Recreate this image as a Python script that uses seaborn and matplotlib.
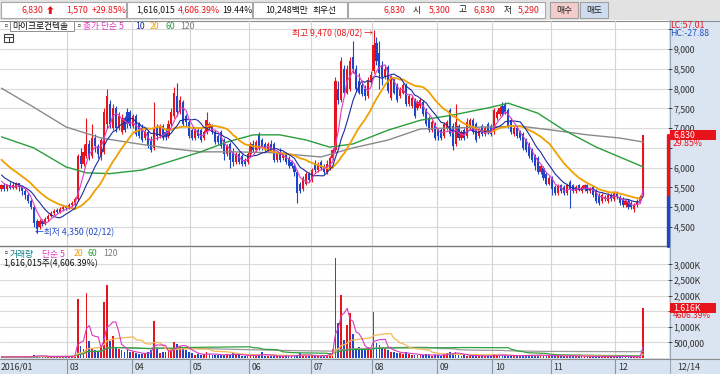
import numpy as np
import pandas as pd
import matplotlib
matplotlib.use("Agg")
import matplotlib.pyplot as plt
from matplotlib.patches import Rectangle
from matplotlib.transforms import blended_transform_factory
import seaborn as sns

# daily candles, 2016 (won)
opens = [5450, 5550, 5450, 5560, 5480, 5480, 5600, 5520, 5400, 5300,
         5150, 5000, 4650, 4500, 4650, 4580, 4700, 4780, 4850, 4920,
         4880, 4950, 5020, 4980, 5050, 5100, 5200, 6300, 6100, 6300,
         6600, 6300, 6750, 6550, 6300, 6400, 7100, 7600, 7000, 7500,
         7000, 6900, 7250, 7400, 7400, 7050, 7300, 7100, 7000, 6750,
         6900, 6700, 6500, 7000, 6800, 7050, 6900, 6800, 7100, 7300,
         7800, 7400, 7650, 7300, 7150, 6950, 6750, 6950, 6950, 6750,
         6900, 7000, 7050, 6900, 6800, 6900, 6700, 6350, 6600, 6400,
         6150, 6350, 6300, 6200, 6150, 6350, 6600, 6450, 6850, 6700,
         6600, 6450, 6600, 6600, 6200, 6400, 6250, 6350, 6250, 6150,
         6050, 5900, 5600, 5450, 5600, 5850, 5700, 6100, 5950, 6150,
         6050, 5900, 6000, 6250, 6450, 8000, 7700, 8500, 7900, 8000,
         8800, 8500, 8200, 8100, 8000, 7800, 8200, 8450, 9150, 8900,
         8600, 8300, 8550, 7750, 8250, 8100, 7800, 7900, 8100, 7600,
         7550, 7700, 7500, 7550, 7650, 7450, 7250, 6950, 7100, 6950,
         6950, 6800, 7000, 7450, 7050, 6600, 7050, 6750, 6950, 6800,
         7000, 7200, 7100, 6800, 7050, 6850, 7100, 7050, 6900, 7250,
         7350, 7550, 7600, 7450, 7200, 6850, 7000, 6900, 6850, 6700,
         6600, 6450, 6300, 6250, 5900, 6000, 5850, 5600, 5750, 5500,
         5350, 5550, 5500, 5350, 5650, 5550, 5400, 5550, 5400, 5450,
         5550, 5400, 5500, 5400, 5300, 5150, 5200, 5150, 5300, 5200,
         5350, 5250, 5200, 5050, 5150, 5100, 4950, 5050, 5150, 5300]
closes = [5550, 5450, 5560, 5480, 5560, 5600, 5500, 5400, 5300, 5150,
          5000, 4600, 4450, 4650, 4580, 4700, 4780, 4850, 4900, 4880,
          4950, 5000, 4980, 5050, 5100, 5200, 6300, 6100, 6400, 6600,
          6300, 6750, 6550, 6350, 6700, 7400, 7800, 7100, 7500, 7000,
          7300, 7250, 6950, 7100, 7050, 7300, 6850, 6800, 6700, 6900,
          6550, 6450, 7000, 6800, 7050, 6750, 6800, 7100, 7400, 7900,
          7400, 7700, 7100, 7150, 6800, 6750, 6950, 6800, 6700, 6900,
          7200, 7100, 6900, 6650, 6650, 6550, 6350, 6550, 6200, 6150,
          6350, 6150, 6100, 6100, 6350, 6600, 6450, 6650, 6500, 6500,
          6450, 6600, 6450, 6200, 6400, 6200, 6350, 6150, 6050, 6050,
          5900, 5350, 5400, 5750, 5850, 5700, 5950, 5950, 6100, 6000,
          5900, 6100, 6250, 6450, 8200, 7700, 8700, 7900, 8500, 8700,
          8500, 8000, 7900, 7850, 7800, 8200, 8350, 9100, 8700, 8400,
          8300, 8500, 7950, 8250, 7900, 7700, 8000, 8100, 7600, 7800,
          7750, 7300, 7650, 7700, 7350, 7100, 6950, 7150, 6750, 6800,
          6750, 7100, 7150, 6850, 6550, 7150, 6750, 6900, 6750, 7150,
          7200, 6900, 6700, 6950, 6850, 7000, 6900, 6850, 7450, 7400,
          7500, 7350, 7400, 7050, 6900, 7000, 6800, 6750, 6500, 6450,
          6300, 6200, 6050, 5900, 6050, 5750, 5600, 5750, 5450, 5350,
          5550, 5400, 5350, 5550, 5450, 5400, 5500, 5450, 5500, 5550,
          5400, 5450, 5300, 5150, 5100, 5300, 5250, 5300, 5200, 5350,
          5250, 5100, 5050, 5150, 5000, 5000, 5050, 5150, 5260, 6830]
highs = [5600, 5620, 5600, 5640, 5650, 5650, 5620, 5560, 5450, 5350,
         5200, 5050, 4700, 4700, 4700, 4750, 4820, 4900, 4950, 4980,
         5000, 5050, 5050, 5100, 5150, 5250, 6350, 6500, 6600, 7250,
         6700, 7100, 6850, 6600, 6750, 7500, 8000, 7700, 7600, 7550,
         7400, 7350, 7300, 7500, 7450, 7350, 7350, 7150, 7100, 7000,
         6950, 6800, 7650, 7100, 7100, 7100, 7000, 7200, 7500, 8050,
         8150, 7800, 7700, 7350, 7200, 7000, 7000, 7000, 7000, 6950,
         7400, 7150, 7100, 6950, 6850, 6950, 6750, 6600, 6650, 6500,
         6400, 6400, 6350, 6250, 6400, 6650, 6700, 6700, 6900, 6750,
         6650, 6650, 6700, 6650, 6450, 6500, 6400, 6400, 6300, 6200,
         6100, 5950, 5650, 5800, 5900, 5900, 6000, 6200, 6150, 6200,
         6100, 6200, 6300, 6500, 8300, 8200, 8800, 8600, 8600, 8800,
         9200, 8600, 8400, 8200, 8100, 8300, 8450, 9470, 9300, 9200,
         8700, 8600, 8600, 8350, 8300, 8150, 8050, 8150, 8150, 7850,
         7800, 7750, 7700, 7750, 7700, 7500, 7300, 7200, 7150, 7000,
         7000, 7150, 7200, 7500, 7130, 7600, 7100, 6950, 7000, 7250,
         7250, 7250, 7150, 7000, 7100, 7050, 7150, 7100, 7500, 7450,
         7550, 7650, 7650, 7500, 7250, 7050, 7050, 6950, 6900, 6750,
         6650, 6500, 6350, 6300, 6100, 6050, 5900, 5800, 5800, 5550,
         5600, 5600, 5550, 5600, 5700, 5600, 5550, 5600, 5550, 5600,
         5600, 5500, 5550, 5450, 5350, 5350, 5300, 5350, 5350, 5400,
         5400, 5300, 5250, 5200, 5200, 5150, 5100, 5200, 5300, 6830]
lows = [5400, 5400, 5420, 5450, 5450, 5450, 5420, 5300, 5200, 5100,
        4950, 4500, 4350, 4450, 4520, 4550, 4650, 4750, 4800, 4850,
        4850, 4900, 4920, 4950, 5000, 5050, 5150, 6000, 6050, 6250,
        6200, 6250, 6400, 6250, 6200, 6350, 7000, 7000, 6950, 6900,
        6950, 6850, 6900, 7000, 7000, 7000, 6800, 6750, 6650, 6700,
        6500, 6400, 6450, 6700, 6750, 6700, 6700, 6750, 7050, 7250,
        7300, 7350, 7050, 7050, 6750, 6700, 6700, 6750, 6650, 6700,
        6850, 6950, 6850, 6600, 6600, 6500, 6200, 6300, 6000, 6050,
        6100, 6100, 6050, 6050, 6100, 6300, 6400, 6400, 6450, 6450,
        6400, 6400, 6400, 6150, 6150, 6150, 6200, 6100, 6000, 6000,
        5800, 5100, 5350, 5400, 5550, 5650, 5650, 5900, 5900, 5950,
        5850, 5850, 5950, 6200, 6400, 7600, 7650, 7800, 7850, 7950,
        8400, 7950, 7850, 7800, 7700, 7750, 8100, 8400, 8600, 8000,
        8100, 8250, 7900, 7700, 7850, 7650, 7750, 7850, 7550, 7550,
        7500, 7250, 7450, 7500, 7300, 7050, 6900, 6900, 6700, 6700,
        6700, 6750, 6950, 6800, 6450, 6550, 6700, 6700, 6700, 6750,
        6950, 6850, 6650, 6750, 6800, 6800, 6850, 6800, 6850, 7200,
        7300, 7300, 7350, 7000, 6850, 6800, 6750, 6700, 6450, 6400,
        6250, 6150, 5950, 5850, 5850, 5700, 5550, 5550, 5300, 5300,
        5300, 5350, 5300, 5300, 4980, 5350, 5350, 5400, 5350, 5400,
        5350, 5350, 5250, 5100, 5050, 5100, 5150, 5100, 5150, 5150,
        5200, 5050, 5000, 5000, 4950, 4950, 4880, 5000, 5100, 5290]
# volume in thousand shares
volumes = [40, 30, 35, 30, 45, 40, 30, 35, 40, 50,
           45, 100, 80, 60, 40, 50, 45, 40, 60, 50,
           45, 40, 50, 60, 70, 80, 1880, 400, 300, 2070,
           560, 300, 250, 200, 350, 1790, 2350, 560, 720, 350,
           300, 250, 200, 250, 200, 180, 150, 120, 130, 150,
           200, 250, 1180, 300, 150, 200, 180, 250, 300, 500,
           450, 400, 350, 250, 200, 150, 100, 120, 100, 130,
           180, 120, 100, 90, 110, 100, 90, 120, 100, 160,
           100, 90, 80, 70, 80, 90, 100, 80, 90, 190,
           80, 70, 60, 70, 60, 50, 60, 70, 60, 80,
           70, 90, 150, 100, 80, 70, 60, 60, 70, 80,
           90, 100, 150, 300, 3190, 1110, 2030, 590, 1050, 1430,
           780, 320, 350, 300, 280, 340, 250, 1460, 470, 420,
           350, 300, 250, 200, 180, 170, 150, 140, 200, 120,
           110, 100, 110, 90, 100, 120, 90, 80, 100, 90,
           80, 120, 150, 180, 160, 190, 100, 80, 90, 70,
           80, 70, 80, 60, 70, 60, 80, 70, 120, 90,
           80, 100, 90, 80, 70, 60, 70, 80, 90, 80,
           100, 90, 80, 110, 90, 70, 80, 90, 70, 60,
           70, 60, 70, 80, 90, 60, 50, 60, 70, 60,
           50, 60, 50, 40, 50, 60, 50, 40, 50, 40,
           50, 60, 50, 40, 40, 50, 40, 50, 35.082, 1616.015]
# closes of the trading days just before the visible window (for the short averages)
pre_closes = [6900, 6850, 6800, 6700, 6600, 6600, 6500, 6400, 6300, 6250,
              6150, 6000, 5950, 5900, 5850, 5800, 5700, 5650, 5600]

# long averages (day index, value)
ma60_at = [0, 11, 22, 29, 37, 48, 59, 68, 77, 86, 95, 104, 112, 120, 132,
           143, 154, 166, 173, 183, 192, 203, 211, 219]
ma60_vals = [6780, 6500, 6020, 5870, 5850, 5940, 6190, 6400, 6650, 6830, 6830,
             6700, 6520, 6600, 6950, 7200, 7330, 7510, 7630, 7380, 6950, 6520,
             6270, 6020]
ma120_at = [0, 11, 22, 34, 45, 56, 68, 79, 92, 109, 120, 132, 143, 166, 177,
            188, 200, 211, 219]
ma120_vals = [8010, 7530, 7030, 6750, 6620, 6500, 6400, 6400, 6380, 6270, 6500,
              6700, 6980, 7030, 7050, 6950, 6830, 6750, 6650]

month_pos = [22.5, 44.5, 64.5, 84.5, 105.5, 126.5, 148.5, 167.5, 187.5, 209.5]
month_names = ['03', '04', '05', '06', '07', '08', '09', '10', '11', '12']

RED = '#e8141c'
BLUE = '#1f45c8'
C5, C10, C20, C60, C120 = '#e03cc0', '#1c2c9c', '#f0a000', '#2a9e3c', '#8a8a8a'
TXT = '#303030'

sns.set_theme(style='white')
plt.rcParams['font.family'] = ['Noto Sans CJK KR', 'DejaVu Sans']
plt.rcParams['axes.unicode_minus'] = False
FS = 6.3

df = pd.DataFrame({'open': opens, 'high': highs, 'low': lows,
                   'close': closes, 'volume': volumes})
df['i'] = np.arange(len(df))
up = df['close'] >= df['open']
cols = np.where(up, RED, BLUE)

allc = pd.Series(pre_closes + closes)
n_pre = len(pre_closes)
for w in (5, 10, 20):
    df[f'ma{w}'] = allc.rolling(w, min_periods=1).mean().iloc[n_pre:].values
for w in (5, 20, 60, 120):
    df[f'vma{w}'] = df['volume'].rolling(w, min_periods=1).mean()

W, H = 720, 374
fig = plt.figure(figsize=(7.2, 3.74), dpi=100)

# backgrounds in pixel coordinates
bg = fig.add_axes([0, 0, 1, 1], zorder=0)
bg.set_xlim(0, W)
bg.set_ylim(H, 0)
bg.axis('off')


def box(a, x, y, w, h, fc, ec='none', lw=0.8):
    a.add_patch(Rectangle((x, y), w, h, facecolor=fc, edgecolor=ec, lw=lw))


box(bg, 0, 0, W, 20, '#e2e2e2')
for x0, w in [(1, 125), (127, 125), (253, 94), (348, 197)]:
    box(bg, x0, 2, w, 16, 'white', '#a8a8a8')
box(bg, 550, 2, 28, 16, '#f4cccc', '#a0a0a0')
box(bg, 580, 2, 28, 16, '#cfdcf0', '#a0a0a0')
box(bg, 0, 20, 669, 338, 'white')
box(bg, 669, 20, 51, 338, '#dbe5f1')
box(bg, 0, 358, W, 16, '#d7e3f0')
bg.plot([0, W], [20.5, 20.5], color='#8c8c8c', lw=0.8)
bg.plot([669.5, 669.5], [20, 374], color='#9aa8b8', lw=0.8)
bg.plot([0, W], [358.5, 358.5], color='#8c8c8c', lw=0.8)

# price panel
ax = fig.add_axes([0, 128 / H, 668 / W, 225 / H], zorder=2)
ax.patch.set_alpha(0)
ax.set_xlim(-0.5, 227.5)
ax.set_ylim(4020, 9708)
for y in range(4500, 10000, 500):
    ax.axhline(y, color='#dadada', lw=0.8, zorder=0)
for x in month_pos:
    ax.axvline(x, color='#d4d4d4', lw=0.8, zorder=0)

ax.vlines(df['i'], df['low'], df['high'], colors=cols, lw=0.8, zorder=2)
body = (df['close'] - df['open']).abs().clip(lower=25)
ax.bar(df['i'], body, bottom=df[['open', 'close']].min(axis=1), width=0.72,
       color=cols, lw=0, zorder=2)

sns.lineplot(x=ma120_at, y=ma120_vals, ax=ax, color=C120, lw=1.0, zorder=3)
sns.lineplot(x=ma60_at, y=ma60_vals, ax=ax, color=C60, lw=1.0, zorder=3)
sns.lineplot(x=df['i'], y=df['ma20'], ax=ax, color=C20, lw=1.3, zorder=3)
sns.lineplot(x=df['i'], y=df['ma10'], ax=ax, color=C10, lw=0.8, zorder=3)
sns.lineplot(x=df['i'], y=df['ma5'], ax=ax, color=C5, lw=0.8, zorder=3)

ax.set_xlabel('')
ax.set_ylabel('')
ax.set_xticks([])
ax.yaxis.tick_right()
price_ticks = list(range(4500, 10000, 500))
ax.set_yticks(price_ticks)
# 9,500 sits under the LC/HC readout, 6,500 under the change tag
ax.set_yticklabels(['' if v in (6500, 9500) else f'{v:,}' for v in price_ticks])
ax.tick_params(axis='y', direction='out', length=3, width=0.7, pad=1,
               labelsize=FS, colors='#404040', labelcolor=TXT)
for s in ('top', 'left', 'right'):
    ax.spines[s].set_visible(False)
ax.spines['bottom'].set_color('#7a7a7a')
ax.spines['bottom'].set_linewidth(1.0)

last, prev = closes[-1], closes[-2]
xr = ax.get_xlim()[1]
ax.plot([xr, xr], [prev, last], color=RED, lw=2.4, clip_on=False, zorder=4)
ax.plot([xr, xr], [ax.get_ylim()[0], prev], color=BLUE, lw=2.4, clip_on=False, zorder=4)

hi = int(np.argmax(highs))
lo = int(np.argmin(lows))
ax.annotate(f'최고 {highs[hi]:,} (08/02) →', xy=(hi, highs[hi]), xytext=(-1, -3),
            textcoords='offset pixels', ha='right', va='center', fontsize=FS,
            color=RED, zorder=5)
ax.annotate(f'←최저 {lows[lo]:,} (02/12)', xy=(lo, lows[lo]), xytext=(-2, 0),
            textcoords='offset pixels', ha='left', va='center', fontsize=FS,
            color=BLUE, zorder=5)

tr = blended_transform_factory(ax.transAxes, ax.transData)
ax.add_patch(Rectangle((670 / 668, last - 125), 0.069, 250, transform=tr,
                       facecolor=RED, edgecolor='none', clip_on=False, zorder=6))
ax.text(673 / 668, last, f'{last:,}', transform=tr, ha='left', va='center',
        fontsize=FS, color='white', zorder=7)
ax.annotate(f'{(last - prev) / prev * 100:.2f}%', xy=(673 / 668, last), xycoords=tr,
            xytext=(0, -9), textcoords='offset pixels', ha='left', va='center',
            fontsize=FS, color=RED, zorder=7, annotation_clip=False)

# volume panel
axv = fig.add_axes([0, 16 / H, 668 / W, 111 / H], zorder=2)
axv.patch.set_alpha(0)
axv.set_xlim(-0.5, 227.5)
axv.set_ylim(0, 3558)
for y in range(500, 3500, 500):
    axv.axhline(y, color='#dadada', lw=0.8, zorder=0)
for x in month_pos:
    axv.axvline(x, color='#d4d4d4', lw=0.8, zorder=0)
axv.bar(df['i'], df['volume'], width=0.62, color=cols, lw=0, zorder=2)
sns.lineplot(x=df['i'], y=df['vma120'], ax=axv, color='#9a9a9a', lw=0.9, zorder=3)
sns.lineplot(x=df['i'], y=df['vma60'], ax=axv, color='#30a040', lw=0.9, zorder=3)
sns.lineplot(x=df['i'], y=df['vma20'], ax=axv, color='#f6b850', lw=0.9, zorder=3)
sns.lineplot(x=df['i'], y=df['vma5'], ax=axv, color='#d838c0', lw=0.8, zorder=3)
axv.set_xlabel('')
axv.set_ylabel('')
axv.set_xticks([])
axv.yaxis.tick_right()
vt = [500, 1000, 1500, 2000, 2500, 3000]
axv.set_yticks(vt)
# 1,500K is hidden behind the volume tag
axv.set_yticklabels(['500,000', '1,000K', '', '2,000K', '2,500K', '3,000K'])
axv.tick_params(axis='y', direction='out', length=3, width=0.7, pad=1,
                labelsize=FS, colors='#404040', labelcolor=TXT)
for s in axv.spines.values():
    s.set_visible(False)

trv = blended_transform_factory(axv.transAxes, axv.transData)
vlast = volumes[-1]
axv.add_patch(Rectangle((670 / 668, vlast - 160), 0.069, 320, transform=trv,
                        facecolor=RED, edgecolor='none', clip_on=False, zorder=6))
axv.text(673 / 668, vlast, f'{vlast:,.0f}K', transform=trv, ha='left', va='center',
         fontsize=FS, color='white', zorder=7)
axv.annotate(f'{vlast / volumes[-2] * 100:.2f}%', xy=(673 / 668, vlast), xycoords=trv,
             xytext=(0, -8), textcoords='offset pixels', ha='left', va='center',
             fontsize=FS - 0.3, color=RED, zorder=7, annotation_clip=False)

# date row
trx = blended_transform_factory(axv.transData, axv.transAxes)
axv.text(-0.2, -0.085, '2016/01', transform=trx, ha='left', va='center',
         fontsize=FS, color=TXT)
for x, m in zip(month_pos, month_names):
    axv.plot([x, x], [-0.01, -0.15], transform=trx, color='#8a96a6', lw=0.8,
             clip_on=False)
    axv.text(x + 0.9, -0.085, m, transform=trx, ha='left', va='center',
             fontsize=FS, color=TXT)

# texts on top
fg = fig.add_axes([0, 0, 1, 1], zorder=10)
fg.set_xlim(0, W)
fg.set_ylim(H, 0)
fg.axis('off')


def t(x, y, s, c=TXT, ha='left', **kw):
    fg.text(x, y, s, color=c, ha=ha, va='center', fontsize=FS, **kw)


t(21, 10, f'{last:,}', RED)
t(46, 10, '⬆', RED, fontweight='bold')
t(66, 10, f'{last - prev:,}', RED)
t(92, 10, f'+{(last - prev) / prev * 100:.2f}%', RED)
t(136, 10, f'{vlast * 1000:,.0f}', '#101010')
t(178, 10, f'{vlast / volumes[-2] * 100:,.2f}%', RED)
t(222, 10, '19.44%', '#101010')
t(265, 10, '10,248백만', '#101010')
t(313, 10, '최우선', '#101010')
t(384, 10, f'{last:,}', RED)
t(413, 10, '시', '#101010')
t(429, 10, f'{opens[-1]:,}', RED)
t(459, 10, '고', '#101010')
t(474, 10, f'{highs[-1]:,}', RED)
t(504, 10, '저', '#101010')
t(518, 10, f'{lows[-1]:,}', RED)
t(564, 10, '매수', '#202020', ha='center')
t(594, 10, '매도', '#202020', ha='center')

# price legend
t(2, 26, '▫', '#404040')
box(fg, 9.5, 21, 64, 10, 'white', '#909090', 0.7)
t(12, 26, '마이크로컨텍솔', '#101010')
t(75, 26, '▫', '#404040')
t(83, 26, '종가 단순 5', C5)
t(135, 26, '10', C10)
t(150, 26, '20', C20)
t(165, 26, '60', C60)
t(180, 26, '120', '#7a7a7a')
box(fg, 4, 34, 9, 8, 'white', '#404040', 0.8)
fg.plot([4, 13], [37, 37], color='#404040', lw=0.7)
fg.plot([8.5, 8.5], [37, 42], color='#404040', lw=0.7)

t(670, 25, 'LC:57.01', RED)
t(670, 33, 'HC:-27.88', '#1f55c0')

# volume legend
t(2, 254, '▫', '#404040')
t(10, 254, '거래량', '#0a7a80')
t(42, 254, '단순 5', C5)
t(74, 254, '20', C20)
t(88, 254, '60', C60)
t(103, 254, '120', '#7a7a7a')
t(3, 264, f'{vlast * 1000:,.0f}주({vlast / volumes[-2] * 100:,.2f}%)', '#101010')

t(677, 367, '12/14', TXT)

fig.savefig('out.png', dpi=100)
